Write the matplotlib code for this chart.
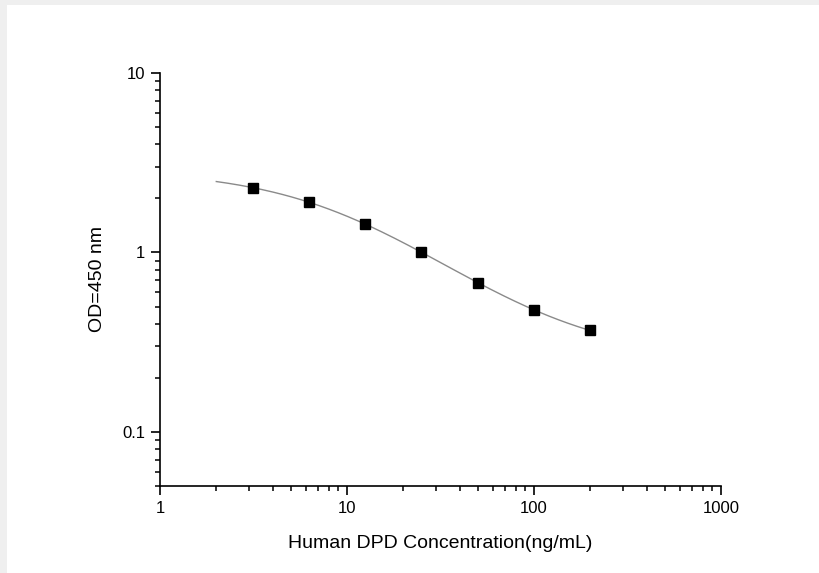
import matplotlib.pyplot as plt
import numpy as np
from matplotlib.patches import Rectangle
from matplotlib.ticker import LogLocator, NullFormatter, FixedFormatter, FixedLocator

plt.rcParams['font.family'] = ['Liberation Sans', 'DejaVu Sans']

# standard curve points
conc = [3.125, 6.25, 12.5, 25, 50, 100, 200]
od = [2.30, 1.90, 1.45, 1.00, 0.68, 0.476, 0.369]

x_ticks = [1, 10, 100, 1000]
x_labels = ['1', '10', '100', '1000']
y_ticks = [0.1, 1, 10]
y_labels = ['0.1', '1', '10']

fig = plt.figure(figsize=(8.19, 5.73), dpi=100, facecolor='#efefef')
fig.patches.append(Rectangle((7/819, 0), 1, 568/573, transform=fig.transFigure,
                             facecolor='white', edgecolor='none', zorder=-10))

ax = fig.add_axes([160/819, 87/573, 561/819, 413/573])
ax.set_facecolor('none')

# 4PL fit: grid over c, b; linear least squares for a, d
x = np.array(conc)
y = np.array(od)
best = None
for c in np.logspace(0, 3, 300):
    for b in np.linspace(0.3, 3, 136):
        g = 1 / (1 + (x / c) ** b)
        A = np.column_stack([g, 1 - g])
        sol, res, *_ = np.linalg.lstsq(A, y, rcond=None)
        err = np.sum((A @ sol - y) ** 2)
        if best is None or err < best[0]:
            best = (err, c, b, sol)
_, c, b, (a, d) = best
xs = np.logspace(np.log10(2), np.log10(200), 200)
ys = d + (a - d) / (1 + (xs / c) ** b)
ax.plot(xs, ys, color='#8a8a8a', lw=1.0, zorder=2)
ax.plot(conc, od, 's', color='black', ms=6.5, zorder=3)

ax.set_xscale('log')
ax.set_yscale('log')
ax.set_xlim(1, 1000)
ax.set_ylim(0.05, 10)

ax.xaxis.set_major_locator(FixedLocator(x_ticks))
ax.xaxis.set_major_formatter(FixedFormatter(x_labels))
ax.yaxis.set_major_locator(FixedLocator(y_ticks))
ax.yaxis.set_major_formatter(FixedFormatter(y_labels))
ax.xaxis.set_minor_locator(LogLocator(base=10, subs=np.arange(2, 10)))
ax.yaxis.set_minor_locator(LogLocator(base=10, subs=np.arange(2, 10)))
ax.xaxis.set_minor_formatter(NullFormatter())
ax.yaxis.set_minor_formatter(NullFormatter())

for s in ['top', 'right']:
    ax.spines[s].set_visible(False)
for s in ['left', 'bottom']:
    ax.spines[s].set_linewidth(1.2)

ax.tick_params(which='major', length=6.5, width=1.2, labelsize=12, colors='black', pad=4)
ax.tick_params(which='minor', length=3.5, width=1.1)

ax.set_xlabel('Human DPD Concentration(ng/mL)', fontsize=14, labelpad=14)
ax.set_ylabel('OD=450 nm', fontsize=14, labelpad=12)

fig.savefig('out.png', dpi=100, facecolor=fig.get_facecolor())
